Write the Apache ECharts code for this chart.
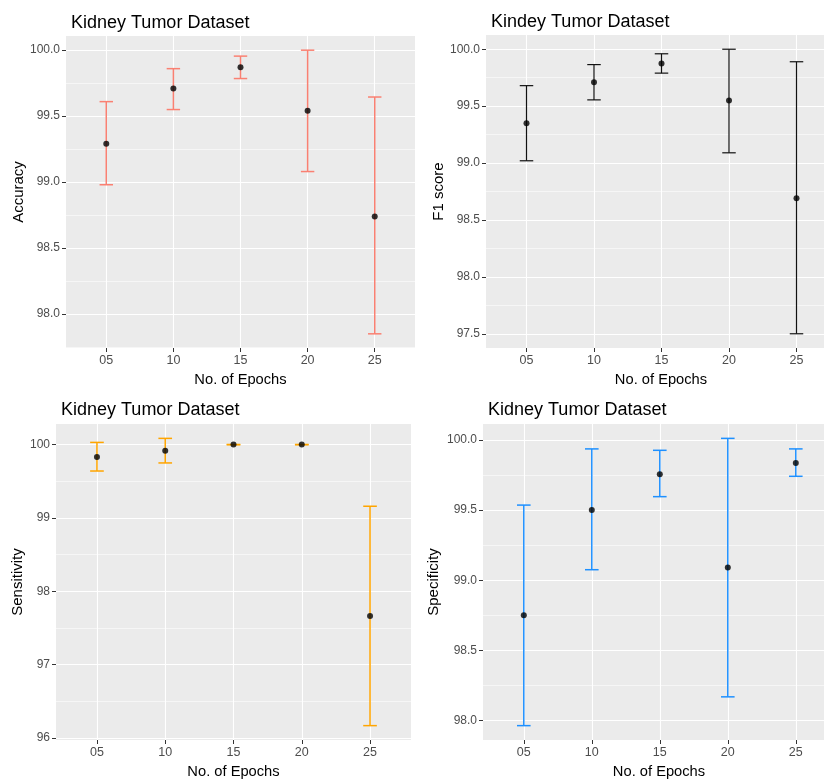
<!DOCTYPE html>
<html>
<head>
<meta charset="utf-8">
<script src="https://cdn.jsdelivr.net/npm/echarts@6/dist/echarts.min.js"></script>
<style>
html,body{margin:0;padding:0;background:#fff;}
#chart{width:824px;height:781px;}
</style>
</head>
<body>
<div id="chart"></div>
<script>
// ---- data ----
const epochs = ['05', '10', '15', '20', '25'];

const accMean = [99.29, 99.71, 99.87, 99.54, 98.74];
const accLow  = [98.98, 99.55, 99.785, 99.08, 97.85];
const accHigh = [99.61, 99.86, 99.955, 100.0, 99.645];

const f1Mean = [99.35, 99.71, 99.875, 99.55, 98.69];
const f1Low  = [99.02, 99.555, 99.79, 99.09, 97.5];
const f1High = [99.68, 99.865, 99.96, 100.0, 99.89];

const sensMean = [99.83, 99.915, 100.0, 100.0, 97.665];
const sensLow  = [99.64, 99.75, 100.0, 100.0, 96.17];
const sensHigh = [100.03, 100.085, 100.0, 100.0, 99.16];

const specMean = [98.75, 99.5, 99.755, 99.09, 99.835];
const specLow  = [97.965, 99.075, 99.595, 98.17, 99.74];
const specHigh = [99.535, 99.935, 99.925, 100.01, 99.935];

const accTicks  = [98.0, 98.5, 99.0, 99.5, 100.0];
const f1Ticks   = [97.5, 98.0, 98.5, 99.0, 99.5, 100.0];
const sensTicks = [96, 97, 98, 99, 100];
const specTicks = [98.0, 98.5, 99.0, 99.5, 100.0];

const titles = ['Kidney Tumor Dataset', 'Kindey Tumor Dataset', 'Kidney Tumor Dataset', 'Kidney Tumor Dataset'];
const yNames = ['Accuracy', 'F1 score', 'Sensitivity', 'Specificity'];
const xName = 'No. of Epochs';

// ---- layout ----
// right-hand panels run past the right edge of the picture (cropped), so their x range is cut off
const FONT = 'Liberation Sans, Arial, sans-serif';
const panels = [
  {mean: accMean, low: accLow, high: accHigh, ticks: accTicks, dec: 1, color: '#FA8072', lw: 1.5,
   grid: {left: 66, top: 36, width: 349, height: 312}, xmax: 5.6, namePad: 0, titleTop: 9, nameGap: 40},
  {mean: f1Mean, low: f1Low, high: f1High, ticks: f1Ticks, dec: 1, color: '#111111', lw: 1.2,
   grid: {left: 486, top: 35, width: 338, height: 313}, xmax: 0.4 + 338 / 67.5, namePad: 12, titleTop: 8, nameGap: 40},
  {mean: sensMean, low: sensLow, high: sensHigh, ticks: sensTicks, dec: 0, color: '#FFA500', lw: 1.5,
   grid: {left: 56, top: 424, width: 355, height: 316}, xmax: 5.6, namePad: 0, titleTop: 396, nameGap: 31},
  {mean: specMean, low: specLow, high: specHigh, ticks: specTicks, dec: 1, color: '#1E90FF', lw: 1.5,
   grid: {left: 483, top: 424, width: 341, height: 316}, xmax: 0.4 + 341 / 68, namePad: 11, titleTop: 396, nameGap: 42}
];

function limits(p) {
  const lo = Math.min(...p.low, ...p.mean), hi = Math.max(...p.high, ...p.mean);
  const e = (hi - lo) * 0.05;
  return [lo - e, hi + e];
}

const option = {
  backgroundColor: '#fff',
  animation: false,
  title: [], grid: [], xAxis: [], yAxis: [], series: []
};

panels.forEach((p, i) => {
  const [ymin, ymax] = limits(p);
  const step = p.ticks[1] - p.ticks[0];
  const minors = [];
  for (let k = -1; k < p.ticks.length; k++) {
    const v = p.ticks[0] + (k + 0.5) * step;
    if (v > ymin && v < ymax) minors.push(v);
  }
  option.title.push({
    text: titles[i], left: p.grid.left, top: p.titleTop,
    textStyle: {fontFamily: FONT, fontSize: 18, fontWeight: 'normal', color: '#000'}
  });
  option.grid.push(Object.assign({containLabel: false, backgroundColor: '#EBEBEB', show: true, borderWidth: 0}, p.grid));
  option.xAxis.push({
    type: 'value', gridIndex: i, min: 0.4, max: p.xmax,
    name: xName, nameLocation: 'middle', nameGap: 24,
    nameTextStyle: {fontFamily: FONT, fontSize: 14.7, color: '#000', padding: [0, 0, 0, p.namePad]},
    axisLine: {show: false},
    axisTick: {show: true, customValues: [1, 2, 3, 4, 5], length: 4, lineStyle: {color: '#333', width: 1}},
    axisLabel: {customValues: [1, 2, 3, 4, 5], formatter: v => epochs[Math.round(v) - 1] || '', margin: 6,
      fontFamily: FONT, fontSize: 12.5, color: '#4D4D4D'},
    splitLine: {show: true, lineStyle: {color: '#fff', width: 1.1}}
  });
  option.yAxis.push({
    type: 'value', gridIndex: i, min: ymin, max: ymax, position: 'left',
    name: yNames[i], nameLocation: 'middle', nameGap: p.nameGap,
    nameTextStyle: {fontFamily: FONT, fontSize: 15, color: '#000'},
    axisLine: {show: false},
    axisTick: {show: true, customValues: p.ticks, length: 4, lineStyle: {color: '#333', width: 1}},
    axisLabel: {customValues: p.ticks, formatter: v => Number(v).toFixed(p.dec), margin: 6,
      fontFamily: FONT, fontSize: 12, color: '#4D4D4D'},
    splitLine: {show: true, lineStyle: {color: '#fff', width: 1.1}}
  });
  option.yAxis.push({
    type: 'value', gridIndex: i, min: ymin, max: ymax, position: 'left',
    axisLine: {show: false},
    axisTick: {show: false, customValues: minors},
    axisLabel: {show: false, customValues: minors},
    splitLine: {show: true, lineStyle: {color: '#fff', width: 0.55}}
  });
  const errData = p.mean.map((m, j) => [j + 1, p.low[j], p.high[j]]);
  const ptData = p.mean.map((m, j) => [j + 1, m]);
  const color = p.color, lw = p.lw;
  option.series.push({
    type: 'custom', xAxisIndex: i, yAxisIndex: 2 * i, z: 3,
    data: errData,
    renderItem: function (params, api) {
      const x = api.value(0);
      const a = api.coord([x, api.value(1)]);
      const b = api.coord([x, api.value(2)]);
      const hw = api.size([0.2, 0])[0] / 2;
      const st = {stroke: color, lineWidth: lw};
      return {type: 'group', children: [
        {type: 'line', shape: {x1: a[0], y1: a[1], x2: b[0], y2: b[1]}, style: st},
        {type: 'line', shape: {x1: a[0] - hw, y1: a[1], x2: a[0] + hw, y2: a[1]}, style: st},
        {type: 'line', shape: {x1: b[0] - hw, y1: b[1], x2: b[0] + hw, y2: b[1]}, style: st}
      ]};
    }
  });
  option.series.push({
    type: 'scatter', xAxisIndex: i, yAxisIndex: 2 * i, z: 4,
    symbol: 'circle', symbolSize: 6,
    itemStyle: {color: '#000'},
    data: ptData
  });
});

const chart = echarts.init(document.getElementById('chart'), null, {renderer: 'canvas'});
chart.setOption(option);
</script>
</body>
</html>
